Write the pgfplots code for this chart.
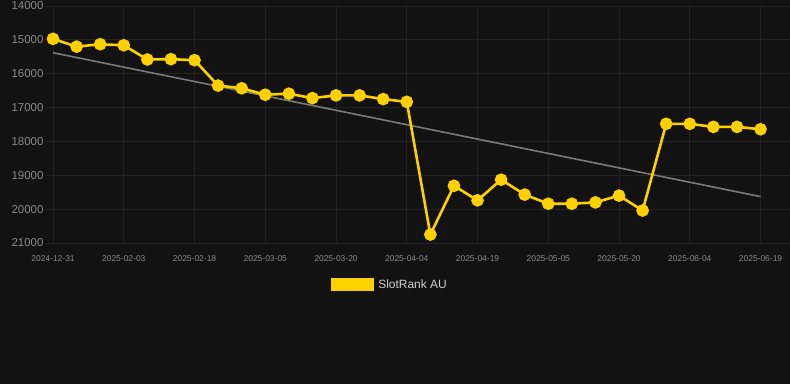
\documentclass[border=0pt]{standalone}
\usepackage{fontspec}
\setmainfont{Liberation Sans}
\usepackage{pgfplots}
\pgfplotsset{compat=1.18}
\definecolor{bg}{HTML}{121212}
\definecolor{gridc}{HTML}{222222}
\definecolor{ylw}{HTML}{FFD000}
\definecolor{trend}{HTML}{7A7A7A}
\definecolor{ticklab}{HTML}{8A8A8A}
\definecolor{legtext}{HTML}{D0D0D0}
\begin{document}
\begin{tikzpicture}[x=1bp,y=1bp]
\fill[bg] (0,0) rectangle (790,384);
\useasboundingbox (0,0) rectangle (790,384);
\begin{axis}[
  at={(45bp,141bp)}, anchor=south west,
  width=745bp, height=237bp, scale only axis,
  xmin=-0.34, xmax=31.25,
  ymin=14000, ymax=21000, y dir=reverse,
  scaled y ticks=false,
  axis line style={draw=none},
  tick style={draw=none},
  grid=major, grid style={gridc, line width=0.8bp},
  ytick={14000,15000,...,21000},
  xtick={0,3,...,30},
  xticklabels={2024-12-31,2025-02-03,2025-02-18,2025-03-05,2025-03-20,2025-04-04,2025-04-19,2025-05-05,2025-05-20,2025-06-04,2025-06-19},
  /pgf/number format/assume math mode=true,
  /pgf/number format/1000 sep={},
  yticklabel style={font=\fontsize{11.5}{12}\selectfont, text=ticklab, xshift=2bp},
  xticklabel style={font=\fontsize{8.5}{10}\selectfont, text=ticklab, yshift=-9bp},
  legend style={at={(axis description cs:0.463,-0.175)}, anchor=center, draw=none, fill=none,
    font=\fontsize{12}{14}\selectfont, text=legtext},
  legend image code/.code={\fill[ylw] (0bp,-5bp) rectangle (40bp,5bp); \path[draw=none,fill=none] (0bp,0bp) -- (44bp,0bp);},
]
\addplot[trend, line width=1.6bp, forget plot] coordinates {(0,15380) (30,19630)};
\addplot[ylw, line width=2.6bp, mark=*, mark size=5bp, mark options={fill=ylw, draw=none, solid}] coordinates {
(0,14970) (1,15200) (2,15130) (3,15160) (4,15580) (5,15570) (6,15600)
(7,16350) (8,16430) (9,16620) (10,16590) (11,16720) (12,16640) (13,16640)
(14,16750) (15,16830) (16,20750) (17,19310) (18,19740) (19,19130) (20,19570)
(21,19840) (22,19840) (23,19800) (24,19600) (25,20040) (26,17480) (27,17480)
(28,17570) (29,17570) (30,17640)};
\addlegendentry{SlotRank AU}
\end{axis}
\end{tikzpicture}
\end{document}
